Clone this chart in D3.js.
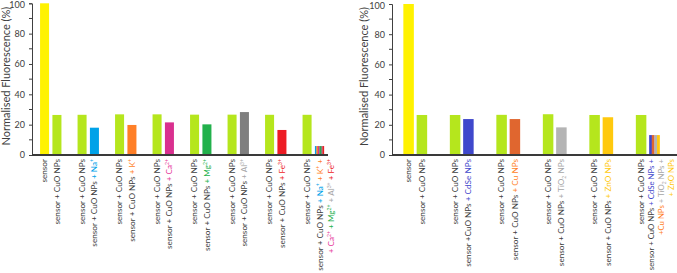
<!DOCTYPE html>
<html><head><meta charset="utf-8">
<script src="https://cdn.jsdelivr.net/npm/d3@7"></script>
<style>body{margin:0;background:#fff}svg{display:block}text{font-family:Lato,"Open Sans",sans-serif}</style>
</head><body><svg id="c" width="677" height="273"></svg>
<script>
// ---------- data ----------
const yTicks = [0, 20, 40, 60, 80, 100];
const yTitle = "Normalised Fluorescence (%)";

const leftGroups = ["g1","g2","g3","g4","g5","g6","g7","g8"];
const leftValuesA = [100, 26.5, 26.8, 26.8, 26.6, 26.6, 26.5, 26.5];
const leftValuesB = [26.4, 18.0, 19.8, 21.5, 20.2, 28.3, 16.5, 5.9];
const leftKeysA = ["sensor","CuO","CuO","CuO","CuO","CuO","CuO","CuO"];
const leftKeysB = ["CuO","Na","K","Ca","Mg","Al","Fe","mixL"];
const leftMixKeys = ["Na","K","Ca","Mg","Al","Fe"];
const sensorLabel = [[["sensor"]]];
const cuoLabel = [[["sensor + CuO NPs"]]];
const leftLabelsA = [sensorLabel, cuoLabel, cuoLabel, cuoLabel, cuoLabel, cuoLabel, cuoLabel, cuoLabel];
const leftLabelsB = [
  [[["sensor + CuO NPs"]]],
  [[["sensor + CuO NPs "],["+ Na","Na"],["+","Na","sup"]]],
  [[["sensor + CuO NPs "],["+ K","K"],["+","K","sup"]]],
  [[["sensor + CuO NPs "],["+ Ca","Ca"],["2+","Ca","sup"]]],
  [[["sensor + CuO NPs "],["+ Mg","Mg"],["2+","Mg","sup"]]],
  [[["sensor + CuO NPs "],["+ Al","Al"],["3+","Al","sup"]]],
  [[["sensor + CuO NPs "],["+ Fe","Fe"],["3+","Fe","sup"]]],
  [[["sensor + CuO NPs "],["+ Na","Na"],["+","Na","sup"],[" + K","K"],["+","K","sup"],[" +","K"]],
   [["+ Ca","Ca"],["2+","Ca","sup"],[" + Mg","Mg"],["2+","Mg","sup"],[" + Al","Al"],["3+","Al","sup"],[" + Fe","Fe"],["3+","Fe","sup"]]]
];

const rightGroups = ["h1","h2","h3","h4","h5","h6"];
const rightValuesA = [100, 26.5, 26.6, 27.0, 26.5, 26.5];
const rightValuesB = [26.5, 23.8, 23.8, 18.3, 25.0, 13.2];
const rightKeysA = ["sensor","CuO","CuO","CuO","CuO","CuO"];
const rightKeysB = ["CuO","CdSe","Cu","TiO2","ZnO","mixR"];
const rightMixKeys = ["CdSe","Cu","TiO2","ZnO"];
const rightLabelsA = [sensorLabel, cuoLabel, cuoLabel, cuoLabel, cuoLabel, cuoLabel];
const rightLabelsB = [
  [[["sensor + CuO NPs"]]],
  [[["sensor +CuO NPs "],["+ CdSe NPs","CdSe"]]],
  [[["sensor + CuO NPs "],["+ Cu NPs","Cu"]]],
  [[["sensor + CuO NPs "],["+ TiO","TiO2"],["2","TiO2","sub"],[" NPs","TiO2"]]],
  [[["sensor + CuO NPs "],["+ ZnO NPs","ZnO"]]],
  [[["sensor + CuO NPs "],["+ CdSe NPs +","CdSe"]],
   [["+Cu NPs","Cu"],[" + TiO","TiO2"],["2","TiO2","sub"],[" NPs +","TiO2"]],
   [["+ ZnO NPs","ZnO"]]]
];

// ---------- styles ----------
const barColor = {sensor:"#fff200", CuO:"#b5e61d", Na:"#00a2e8", K:"#ff7f27", Ca:"#d9308f",
  Mg:"#22b14c", Al:"#7f7f7f", Fe:"#ed1c24", CdSe:"#3f48cc", Cu:"#e0662f", TiO2:"#b4b4b4", ZnO:"#ffc90e"};
const textColor = {Na:"#00a2e8", K:"#ff7f27", Ca:"#e6399b", Mg:"#22b14c", Al:"#a6a6a6", Fe:"#ed1c24",
  CdSe:"#3f48cc", Cu:"#ff7f27", TiO2:"#a6a6a6", ZnO:"#ffc90e"};
const baseText = "#404040";

const svg = d3.select("#c");

function drawPanel(cfg) {
  const g = svg.append("g");
  const y = d3.scaleLinear().domain([0, 100]).range([cfg.y0, cfg.y1]);
  const x0 = d3.scaleBand().domain(cfg.groups).range(cfg.xr).paddingInner(cfg.pi).paddingOuter(cfg.po);
  const x1 = d3.scaleBand().domain([0, 1]).range([0, x0.bandwidth()]).paddingInner(cfg.pi1);

  // y axis
  const ax = d3.axisLeft(y).tickValues(yTicks).tickSize(3).tickPadding(4);
  const ag = g.append("g").attr("transform", `translate(${cfg.xr[0]},0)`).call(ax);
  ag.select(".domain").attr("stroke", "#404040").attr("stroke-width", 1);
  ag.selectAll(".tick line").attr("stroke", "#404040");
  ag.selectAll(".tick text").attr("fill", baseText).style("font-size", "9px").style("font-family", "Lato, sans-serif")
    .attr("dy", d => d === 100 ? "0.5em" : "0.32em");
  // minor ticks
  g.append("g").selectAll("line").data(d3.range(10, 100, 20)).join("line")
    .attr("x1", cfg.xr[0] - 3).attr("x2", cfg.xr[0]).attr("y1", d => y(d)).attr("y2", d => y(d))
    .attr("stroke", "#404040");

  g.append("text").attr("transform", `translate(${cfg.titleX},${(cfg.y0 + cfg.y1) / 2 - 3}) rotate(-90)`)
    .attr("text-anchor", "middle").attr("fill", "#404040").style("font-size", "11px").text(yTitle);

  // bars
  const bars = [];
  cfg.groups.forEach((gr, i) => {
    bars.push({gr, k: 0, v: cfg.valsA[i], key: cfg.keysA[i], label: cfg.labA[i]});
    bars.push({gr, k: 1, v: cfg.valsB[i], key: cfg.keysB[i], label: cfg.labB[i]});
  });
  bars.forEach(b => {
    const bx = x0(b.gr) + x1(b.k);
    if (b.key === cfg.mixKey) {
      const xs = d3.scaleBand().domain(cfg.mixKeys).range([bx, bx + x1.bandwidth()]);
      g.append("g").selectAll("rect").data(cfg.mixKeys).join("rect")
        .attr("x", d => xs(d)).attr("width", xs.bandwidth() + 0.2)
        .attr("y", y(b.v)).attr("height", y(0) - y(b.v)).attr("fill", d => barColor[d]);
    } else {
      g.append("rect").attr("x", bx).attr("width", x1.bandwidth())
        .attr("y", y(b.v)).attr("height", y(0) - y(b.v)).attr("fill", barColor[b.key]);
    }
    // label
    const multi = b.label.length > 1;
    const fs = multi ? cfg.fsMulti : cfg.fs;
    const cx = bx + x1.bandwidth() / 2 + (multi ? cfg.mixShift : 0);
    b.label.forEach((line, li) => {
      const t = g.append("text")
        .attr("transform", `translate(${cx + li * cfg.lineH},${y(0) + 4}) rotate(-90)`)
        .attr("text-anchor", "end").attr("dy", "0.35em")
        .style("font-size", fs + "px").attr("fill", baseText);
      let shifted = 0;
      line.forEach(seg => {
        const ts = t.append("tspan").text(seg[0]).attr("fill", seg[1] ? textColor[seg[1]] : baseText);
        const want = seg[2] === "sup" ? -3 : seg[2] === "sub" ? 1.5 : 0;
        if (want !== shifted) { ts.attr("dy", want - shifted); shifted = want; }
        if (seg[2]) ts.style("font-size", (fs * 0.62) + "px");
      });
    });
  });

  // bottom axis line
  g.append("line").attr("x1", cfg.xr[0]).attr("x2", cfg.axisEnd).attr("y1", y(0)).attr("y2", y(0))
    .attr("stroke", "#3a3a3a").attr("stroke-width", 2);
}

drawPanel({groups: leftGroups, valsA: leftValuesA, valsB: leftValuesB, keysA: leftKeysA, keysB: leftKeysB,
  labA: leftLabelsA, labB: leftLabelsB, mixKey: "mixL", mixKeys: leftMixKeys,
  xr: [32, 332], axisEnd: 328, pi: 0.43, po: 0.215, pi1: 0.27, y0: 155, y1: 3.3, titleX: 10, fs: 8.2, fsMulti: 8.2, lineH: 10.7, mixShift: 1});
drawPanel({groups: rightGroups, valsA: rightValuesA, valsB: rightValuesB, keysA: rightKeysA, keysB: rightKeysB,
  labA: rightLabelsA, labB: rightLabelsB, mixKey: "mixR", mixKeys: rightMixKeys,
  xr: [392, 671], axisEnd: 677, pi: 0.488, po: 0.244, pi1: 0.21, y0: 155, y1: 4, titleX: 368, fs: 8.2, fsMulti: 7.8, lineH: 10, mixShift: -3});
</script></body></html>
